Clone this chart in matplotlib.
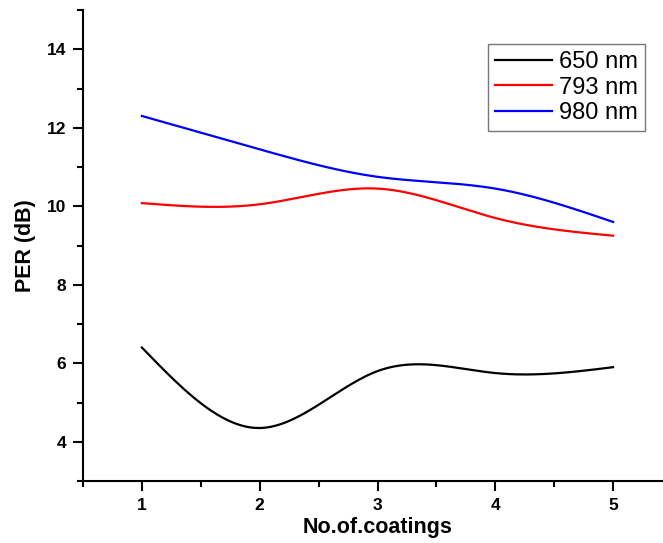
import numpy as np
import matplotlib
matplotlib.use("Agg")
import matplotlib.pyplot as plt

coatings = [1, 2, 3, 4, 5]
per_650 = [6.40, 4.35, 5.80, 5.75, 5.90]
per_793 = [10.08, 10.05, 10.45, 9.70, 9.25]
per_980 = [12.30, 11.45, 10.75, 10.45, 9.60]
labels = ["650 nm", "793 nm", "980 nm"]
colors = ["black", "#ff0000", "#0000ff"]


def natural_spline(x, y, xs):
    x = np.asarray(x, float)
    y = np.asarray(y, float)
    n = len(x)
    h = np.diff(x)
    A = np.zeros((n, n))
    b = np.zeros(n)
    A[0, 0] = 1
    A[-1, -1] = 1
    for i in range(1, n - 1):
        A[i, i - 1] = h[i - 1]
        A[i, i] = 2 * (h[i - 1] + h[i])
        A[i, i + 1] = h[i]
        b[i] = 3 * ((y[i + 1] - y[i]) / h[i] - (y[i] - y[i - 1]) / h[i - 1])
    c = np.linalg.solve(A, b)
    out = np.empty_like(xs)
    for k, xv in enumerate(xs):
        i = min(max(np.searchsorted(x, xv) - 1, 0), n - 2)
        dx = xv - x[i]
        bi = (y[i + 1] - y[i]) / h[i] - h[i] * (2 * c[i] + c[i + 1]) / 3
        di = (c[i + 1] - c[i]) / (3 * h[i])
        out[k] = y[i] + bi * dx + c[i] * dx ** 2 + di * dx ** 3
    return out


plt.rcParams["font.family"] = ["Liberation Sans", "DejaVu Sans"]

fig = plt.figure(figsize=(6.63, 5.43), dpi=100)
W, H = 663, 543
left, right, top, bottom = 83, 672, 10, 481
ax = fig.add_axes([left / W, 1 - bottom / H, (right - left) / W, (bottom - top) / H])

xs = np.linspace(1, 5, 300)
for ys, lab, col in zip([per_650, per_793, per_980], labels, colors):
    ax.plot(xs, natural_spline(coatings, ys, xs), color=col, lw=1.6, label=lab)

ax.set_xlim(0.5, 5.5)
ax.set_ylim(3, 15)
ax.set_xticks(coatings)
ax.set_xticks([1.5, 2.5, 3.5, 4.5, 0.5, 5.5], minor=True)
ax.set_yticks([4, 6, 8, 10, 12, 14])
ax.set_yticks([3, 5, 7, 9, 11, 13, 15], minor=True)
ax.spines["top"].set_visible(False)
ax.spines["right"].set_visible(False)
for s in ["left", "bottom"]:
    ax.spines[s].set_linewidth(1.5)
ax.tick_params(which="major", direction="out", length=7, width=1.5, labelsize=12.5, pad=5)
ax.tick_params(which="minor", direction="out", length=4, width=1.5)
for t in ax.get_xticklabels() + ax.get_yticklabels():
    t.set_fontweight("bold")

ax.set_xlabel("No.of.coatings", fontsize=15.5, fontweight="bold", labelpad=3)
ax.set_ylabel("PER (dB)", fontsize=15.5, fontweight="bold", labelpad=8)

leg = ax.legend(loc="upper left", bbox_to_anchor=((488 - left) / (right - left), (bottom - 44) / (bottom - top)),
                fontsize=17, frameon=True, fancybox=False, handlelength=2.4,
                borderpad=0.3, labelspacing=0.15, handletextpad=0.3, borderaxespad=0)
leg.get_frame().set_edgecolor("#555555")
leg.get_frame().set_linewidth(1.0)

fig.savefig("out.png", dpi=100)
